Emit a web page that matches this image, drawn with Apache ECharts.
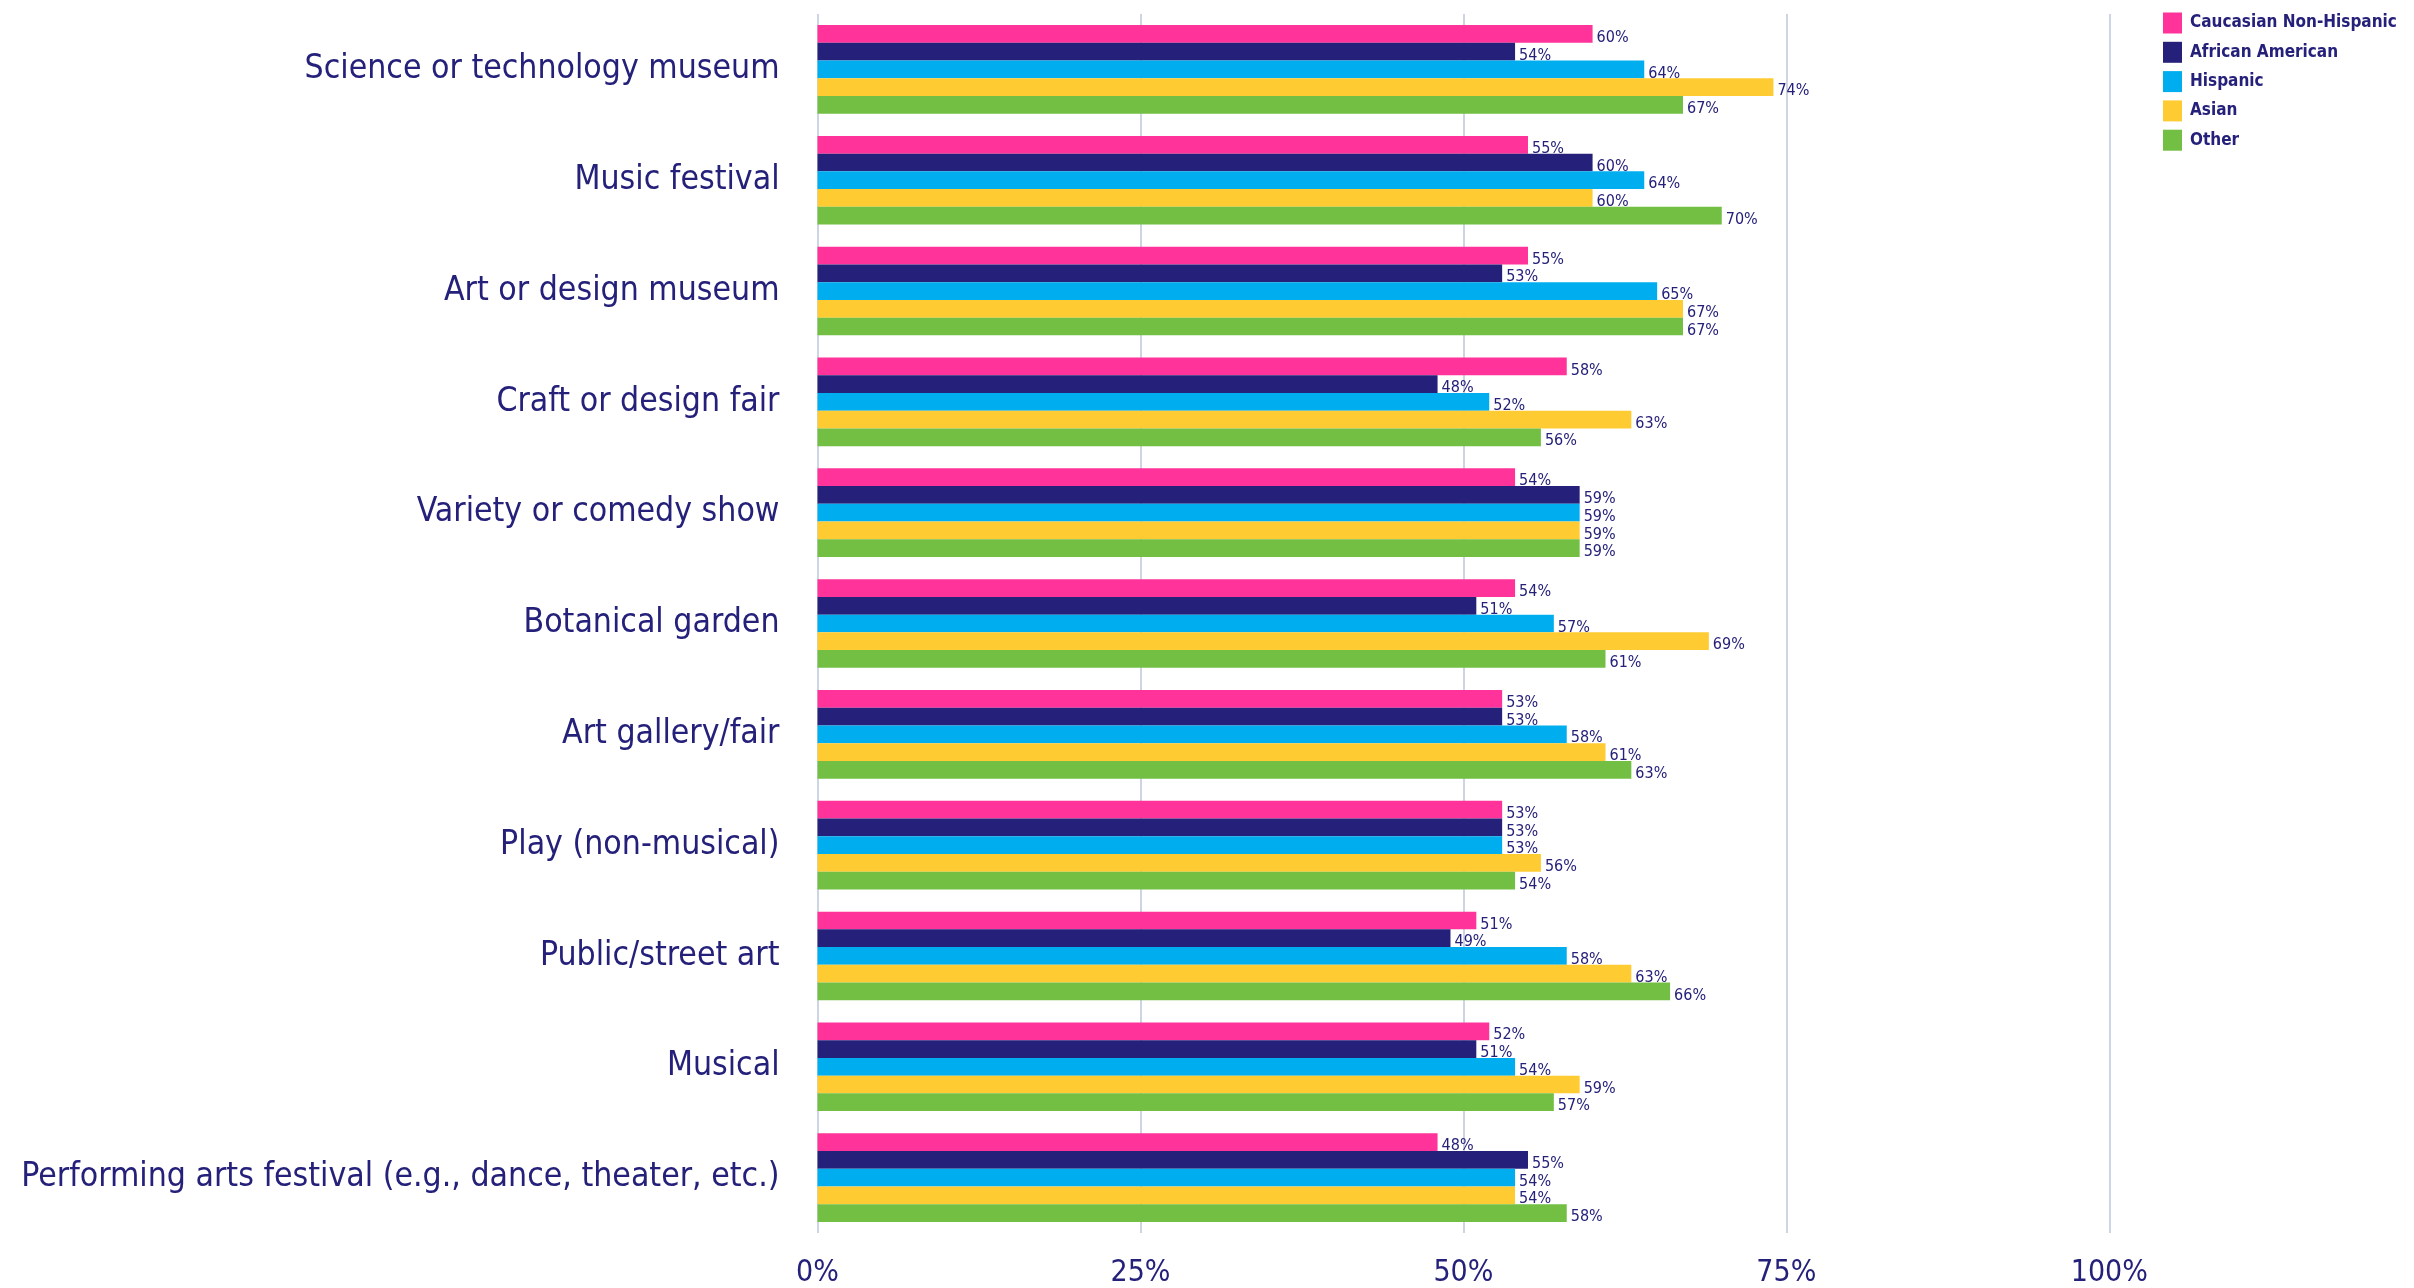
<!DOCTYPE html>
<html>
<head>
<meta charset="utf-8">
<title>Participation by ethnicity</title>
<script src="https://cdn.jsdelivr.net/npm/echarts@6/dist/echarts.min.js"></script>
<style>
  html, body { margin: 0; padding: 0; background: #ffffff; }
  #chart { width: 2414px; height: 1288px; }
</style>
</head>
<body>
<div id="chart"></div>
<script>
// Activities, listed top to bottom
const categories = [
  'Science or technology museum',
  'Music festival',
  'Art or design museum',
  'Craft or design fair',
  'Variety or comedy show',
  'Botanical garden',
  'Art gallery/fair',
  'Play (non-musical)',
  'Public/street art',
  'Musical',
  'Performing arts festival (e.g., dance, theater, etc.)'
];

// Share of each group, in percent
const caucasian = [60, 55, 55, 58, 54, 54, 53, 53, 51, 52, 48];
const african   = [54, 60, 53, 48, 59, 51, 53, 53, 49, 51, 55];
const hispanic  = [64, 64, 65, 52, 59, 57, 58, 53, 58, 54, 54];
const asian     = [74, 60, 67, 63, 59, 69, 61, 56, 63, 59, 54];
const other     = [67, 70, 67, 56, 59, 61, 63, 54, 66, 57, 58];

const seriesNames = ['Caucasian Non-Hispanic', 'African American', 'Hispanic', 'Asian', 'Other'];
const seriesData = [caucasian, african, hispanic, asian, other];
const colors = ['#ff3399', '#25217a', '#00aeef', '#ffcb32', '#72bf44'];

const ink = '#25217a';
const narrow = "'Liberation Sans Narrow', 'DejaVu Sans Condensed', 'Noto Sans', sans-serif";

const chart = echarts.init(document.getElementById('chart'), null, { renderer: 'canvas' });

chart.setOption({
  animation: false,
  backgroundColor: '#ffffff',
  color: colors,
  legend: {
    orient: 'vertical',
    left: 2158,
    top: 7.5,
    icon: 'rect',
    itemWidth: 19,
    itemHeight: 21,
    itemGap: 8.3,
    textStyle: {
      color: ink,
      fontFamily: narrow,
      fontWeight: 'bold',
      fontSize: 17,
      padding: [0, 0, 0, 3]
    },
    data: seriesNames
  },
  grid: {
    left: 817.5,
    right: 304.7,
    top: 14,
    height: 1219,
    containLabel: false,
    outerBoundsMode: 'none'
  },
  xAxis: {
    type: 'value',
    min: 0,
    max: 100,
    interval: 25,
    axisLine: { show: false },
    axisTick: { show: false },
    splitLine: { show: true, lineStyle: { color: '#cdd5e2', width: 2 } },
    axisLabel: {
      formatter: '{value}%',
      color: ink,
      fontFamily: narrow,
      fontSize: 30,
      margin: 25
    }
  },
  yAxis: {
    type: 'category',
    inverse: true,
    data: categories,
    axisLine: { show: false },
    axisTick: { show: false },
    axisLabel: {
      color: ink,
      fontFamily: narrow,
      fontSize: 33.5,
      margin: 38,
      padding: [6, 0, 0, 0]
    }
  },
  series: seriesNames.map((name, i) => ({
    name: name,
    type: 'bar',
    data: seriesData[i],
    barGap: '0%',
    barCategoryGap: '20%',
    itemStyle: { color: colors[i] },
    label: {
      show: true,
      position: 'right',
      distance: 4,
      offset: [0, 4],
      formatter: '{c}%',
      color: ink,
      fontFamily: narrow,
      fontSize: 16
    }
  }))
});
</script>
</body>
</html>
